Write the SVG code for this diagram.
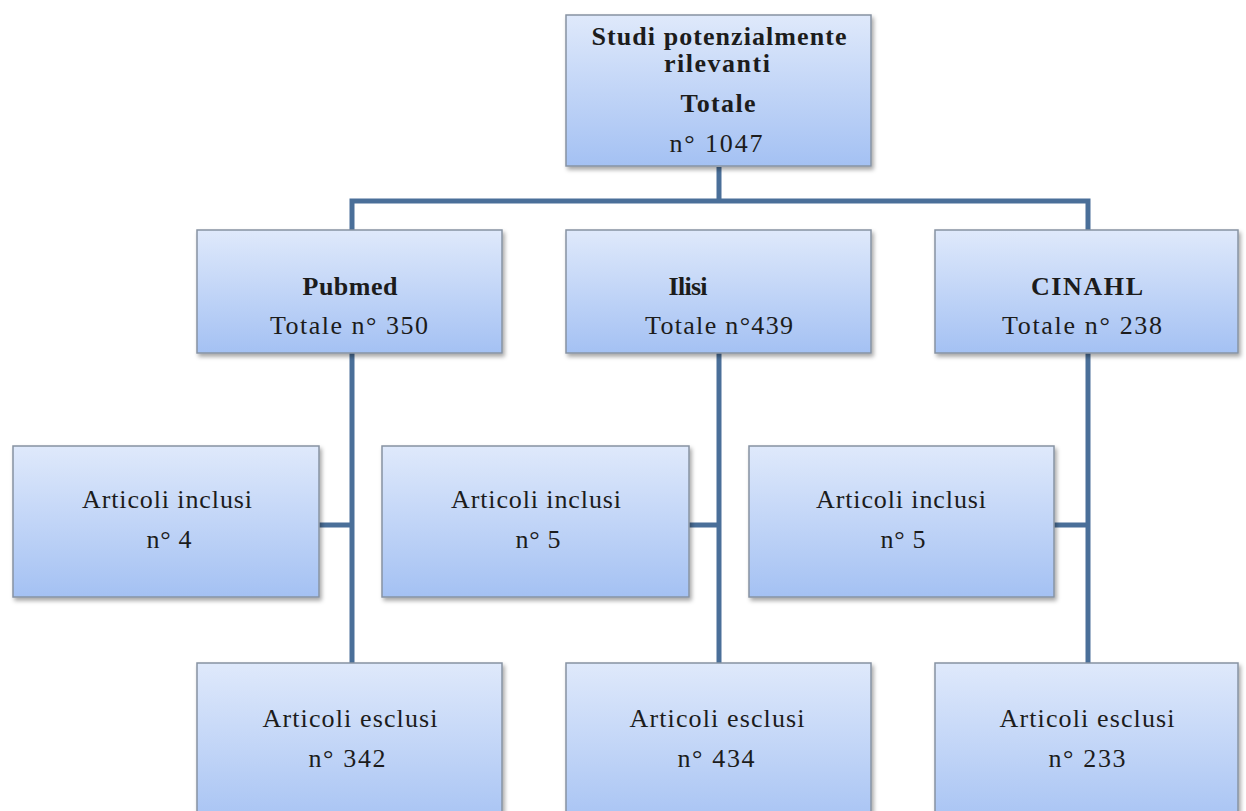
<svg xmlns="http://www.w3.org/2000/svg" width="1246" height="811" viewBox="0 0 1246 811">
<defs>
<linearGradient id="g" x1="0" y1="0" x2="0" y2="1">
<stop offset="0" stop-color="#dfe9fb"/>
<stop offset="1" stop-color="#a4c1f3"/>
</linearGradient>
<filter id="sh" x="-5%" y="-5%" width="115%" height="120%">
<feDropShadow dx="2" dy="3" stdDeviation="2" flood-color="#000" flood-opacity="0.35"/>
</filter>
<style>
.box{fill:url(#g);stroke:#8793a3;stroke-width:1.5;filter:url(#sh)}
.t{font-family:"Liberation Serif",serif;font-size:26px;fill:#1c1c1c;text-anchor:middle}
.b{font-weight:bold}
.c{fill:none;stroke:#4a6f99;stroke-width:5}
</style>
</defs>
<rect width="1246" height="811" fill="#fff"/>
<g id="connectors">
<path class="c" d="M719 167V201M352 230V201H1088V230"/>
<path class="c" d="M352 353V663M319 525H352"/>
<path class="c" d="M719 353V663M689 525H719"/>
<path class="c" d="M1088 353V663M1054 525H1088"/>
</g>
<g id="top">
<rect class="box" x="566" y="15" width="305" height="151"/>
<text class="t b" x="719" y="45" textLength="255">Studi potenzialmente</text>
<text class="t b" x="717" y="72" textLength="106">rilevanti</text>
<text class="t b" x="718" y="112" textLength="75">Totale</text>
<text class="t" x="716" y="152" textLength="93">n° 1047</text>
</g>
<g id="pubmed">
<rect class="box" x="197" y="230" width="305" height="123"/>
<text class="t b" x="350" y="295" textLength="95">Pubmed</text>
<text class="t" x="349" y="334" textLength="158">Totale n° 350</text>
</g>
<g id="ilisi">
<rect class="box" x="566" y="230" width="305" height="123"/>
<text class="t b" x="688" y="295" textLength="39">Ilisi</text>
<text class="t" x="719" y="334" textLength="148">Totale n°439</text>
</g>
<g id="cinahl">
<rect class="box" x="935" y="230" width="303" height="123"/>
<text class="t b" x="1087" y="295" textLength="112">CINAHL</text>
<text class="t" x="1082" y="334" textLength="160">Totale n° 238</text>
</g>
<g id="inclusi1">
<rect class="box" x="13" y="446" width="306" height="151"/>
<text class="t" x="167" y="508" textLength="170">Articoli inclusi</text>
<text class="t" x="169" y="548" textLength="45">n° 4</text>
</g>
<g id="inclusi2">
<rect class="box" x="382" y="446" width="307" height="151"/>
<text class="t" x="536" y="508" textLength="170">Articoli inclusi</text>
<text class="t" x="538" y="548" textLength="45">n° 5</text>
</g>
<g id="inclusi3">
<rect class="box" x="749" y="446" width="305" height="151"/>
<text class="t" x="901" y="508" textLength="170">Articoli inclusi</text>
<text class="t" x="903" y="548" textLength="45">n° 5</text>
</g>
<g id="esclusi1">
<rect class="box" x="197" y="663" width="305" height="170"/>
<text class="t" x="350" y="727" textLength="175">Articoli esclusi</text>
<text class="t" x="347" y="767" textLength="77">n° 342</text>
</g>
<g id="esclusi2">
<rect class="box" x="566" y="663" width="305" height="170"/>
<text class="t" x="717" y="727" textLength="175">Articoli esclusi</text>
<text class="t" x="716" y="767" textLength="77">n° 434</text>
</g>
<g id="esclusi3">
<rect class="box" x="935" y="663" width="303" height="170"/>
<text class="t" x="1087" y="727" textLength="175">Articoli esclusi</text>
<text class="t" x="1087" y="767" textLength="77">n° 233</text>
</g>
</svg>
